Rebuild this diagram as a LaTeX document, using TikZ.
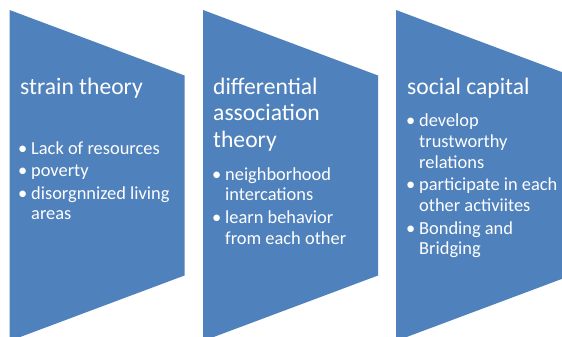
\documentclass[tikz,border=0pt]{standalone}
\usepackage{fontspec}
\setmainfont{Carlito}
\definecolor{chevblue}{HTML}{4F81BD}
\tikzset{
  chev/.style={fill=chevblue},
  ttl/.style={anchor=base west, inner sep=0pt, align=left, text=white,
    font=\fontsize{23.6}{26.7}\selectfont},
  itm/.style={anchor=base west, inner sep=0pt, align=left, text=white,
    font=\fontsize{18.4}{20.7}\selectfont},
}
\newcommand{\bul}{\llap{\textbullet\hspace{4pt}}}
\begin{document}
\begin{tikzpicture}[x=1pt,y=-1pt]
\useasboundingbox (0,0) rectangle (562,337);
\clip (0,0) rectangle (562,337);
% the three blocks
\foreach \x in {9.5,203,396}
  \fill[chev] (\x,10) -- ++(175,65.5) -- ++(0,200) -- ++(-175,65.5) -- cycle;
% strain theory (positions are baselines of last lines)
\node[ttl] (t1) at (20,94) {strain theory};
\node[itm] (b1a) at (31,154) {\bul Lack of resources};
\node[itm] (b1b) at (31,176.5) {\bul poverty};
\node[itm] (b1c) at (31,219.7) {\bul disorgnnized living\\areas};
% differential association
\node[ttl] (t2) at (213,147.4) {differential\\association\\theory};
\node[itm] (b2a) at (225,200.7) {\bul neighborhood\\intercations};
\node[itm] (b2b) at (225,244.1) {\bul learn behavior\\from each other};
% social capital
\node[ttl] (t3) at (407,94) {social capital};
\node[itm] (b3a) at (419,168.1) {\bul develop\\trustworthy\\relations};
\node[itm] (b3b) at (419,211.4) {\bul participate in each\\other activiites};
\node[itm] (b3c) at (419,254.7) {\bul Bonding and\\Bridging};
\end{tikzpicture}
\end{document}
